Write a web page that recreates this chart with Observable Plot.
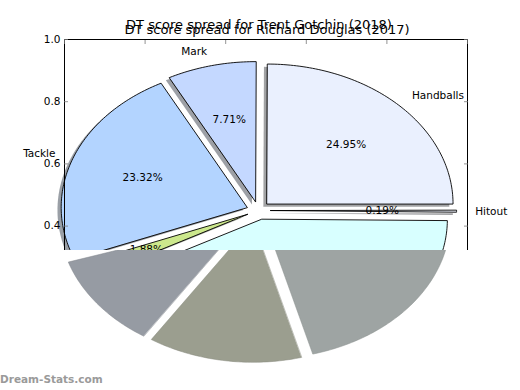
<!DOCTYPE html>
<html><head><meta charset="utf-8">
<script src="https://cdn.jsdelivr.net/npm/d3@7"></script>
<script src="https://cdn.jsdelivr.net/npm/@observablehq/plot@0.6"></script>
<style>
body{margin:0;background:#fff;}
#wrap{position:relative;width:520px;height:390px;overflow:hidden;font-family:"DejaVu Sans",sans-serif;}
#wrap svg{position:absolute;left:0;top:0;}
#lower{clip-path:inset(250px 0 0 0);}
#mark{position:absolute;left:0;top:373px;font:bold 10.5px "DejaVu Sans",sans-serif;color:#9a9a9a;white-space:nowrap;}
</style></head><body><div id="wrap"></div>
<script>
// ---- data ----
const categories = ["Handballs", "Mark", "Tackle", "Free", "Kick", "Hitout"];
const shares = [24.95, 7.71, 23.32, 1.88, 41.95, 0.19];
const colors = ["#eaf0fe", "#c4d8ff", "#b3d4ff", "#cce88c", "#d8ffff", "#f0f4ff"];
const titles = ["DT score spread for Trent Gotchin (2018)", "DT score spread for Richard Douglas (2017)"];
const yTicks = [0.0, 0.2, 0.4, 0.6, 0.8, 1.0];
const xTicks = [0.0, 0.2, 0.4, 0.6, 0.8, 1.0];
const grayStart = 55.0;               // second (shadow) pie, hidden slices before this
const grayShares = [10.8, 13.4, 20.3];
const grayColors = ["#969ba3", "#9b9e8f", "#9ea4a3"];
const watermark = "Dream-Stats.com";

// ---- pie geometry (unit circle, mapped through x/y scales) ----
const CX = 0.4814, CY = 0.4502, RX = 0.4615, RY = 0.4502;
const EXPLODE = 0.065, SH = -0.02;
const COVER = 0.3215; // everything below this y (data) is covered by the lower panel
const deg = Math.PI / 180;
function pieGeom(vals, startPct) {
  let acc = startPct;
  return vals.map((s, i) => {
    const a0 = acc / 100 * 360, a1 = (acc + s) / 100 * 360; acc += s;
    const m = (a0 + a1) / 2 * deg;
    const ox = EXPLODE * Math.cos(m), oy = EXPLODE * Math.sin(m);
    const pts = [{u: ox, v: oy}];
    const n = Math.max(2, Math.ceil(a1 - a0));
    for (let k = 0; k <= n; k++) {
      const a = (a0 + (a1 - a0) * k / n) * deg;
      pts.push({u: ox + Math.cos(a), v: oy + Math.sin(a)});
    }
    return {i, s, m, ox, oy, pts};
  });
}
const X = u => CX + RX * u, Y = v => CY + RY * v;

const wedges = pieGeom(shares, 0);
const grays = pieGeom(grayShares, grayStart);

const shadowMarks = wedges.map(w => Plot.line(w.pts, {
  x: p => X(p.u + SH), y: p => Y(p.v + SH), curve: "linear-closed",
  fill: (() => { const c = d3.rgb(colors[w.i]); return d3.rgb(c.r * 0.3, c.g * 0.3, c.b * 0.3).formatHex(); })(),
  fillOpacity: 0.5, stroke: "none"
}));
const wedgeMarks = wedges.map(w => Plot.line(w.pts, {
  x: p => X(p.u), y: p => Y(p.v), curve: "linear-closed",
  fill: colors[w.i], stroke: "#000", strokeWidth: 0.9, strokeLinejoin: "round"
}));

const pctData = wedges.map(w => ({x: X(w.ox + 0.6 * Math.cos(w.m)), y: Y(w.oy + 0.6 * Math.sin(w.m)), t: shares[w.i].toFixed(2) + "%"}));
const lab = wedges.map(w => {
  const xt = w.ox + 1.1 * Math.cos(w.m);
  return {x: X(xt), y: Y(w.oy + 1.1 * Math.sin(w.m)), t: categories[w.i], left: xt > 0};
}).filter(d => d.y > COVER); // labels falling under the lower panel are not visible

const common = {
  width: 520, height: 390, marginLeft: 64, marginRight: 53, marginTop: 39, marginBottom: 40,
  x: {domain: [0, 1], axis: null}, y: {domain: [0, 1], axis: null},
  style: {fontFamily: "DejaVu Sans", background: "transparent", overflow: "visible"}
};

const upper = Plot.plot({
  ...common,
  marks: [
    ...shadowMarks,
    ...wedgeMarks,
    Plot.text(pctData, {x: "x", y: "y", text: "t", fontSize: 10.5, fill: "#000"}),
    Plot.text(lab.filter(d => d.left), {x: "x", y: "y", text: "t", textAnchor: "start", fontSize: 10.5, fill: "#000"}),
    Plot.text(lab.filter(d => !d.left), {x: "x", y: "y", text: "t", textAnchor: "end", fontSize: 10.5, fill: "#000"}),
    Plot.frame({stroke: "#000", strokeWidth: 1}),
    Plot.axisY(yTicks, {anchor: "left", tickSize: -4, tickPadding: 8, stroke: "#777", strokeWidth: 0.8, fontSize: 10.5, fill: "#000", tickFormat: d => d > COVER ? d3.format(".1f")(d) : "", label: null}),
    Plot.axisY(yTicks, {anchor: "right", tickSize: -4, stroke: "#777", strokeWidth: 0.8, tickFormat: () => "", label: null}),
    Plot.axisX(xTicks, {anchor: "top", tickSize: -4, stroke: "#777", strokeWidth: 0.8, tickFormat: () => "", label: null}),
    Plot.text([titles[0]], {frameAnchor: "top", text: d => d, dx: -7, dy: -14.5, lineAnchor: "middle", fontSize: 13, fill: "#000"}),
    Plot.text([titles[1]], {frameAnchor: "top", text: d => d, dx: 1, dy: -9.5, lineAnchor: "middle", fontSize: 13, fill: "#000"})
  ]
});

const lower = Plot.plot({
  ...common,
  style: {...common.style, background: "#fff"},
  marks: grays.map(w => Plot.line(w.pts, {
    x: p => X(p.u + SH), y: p => Y(p.v + SH), curve: "linear-closed",
    fill: grayColors[w.i], stroke: d3.rgb(grayColors[w.i]).darker(0.4).formatHex(), strokeWidth: 0.5
  }))
});
lower.id = "lower";

const wrap = document.getElementById("wrap");
wrap.append(upper, lower);
const wm = document.createElement("div");
wm.id = "mark"; wm.textContent = watermark;
wrap.append(wm);
</script>
</body></html>
